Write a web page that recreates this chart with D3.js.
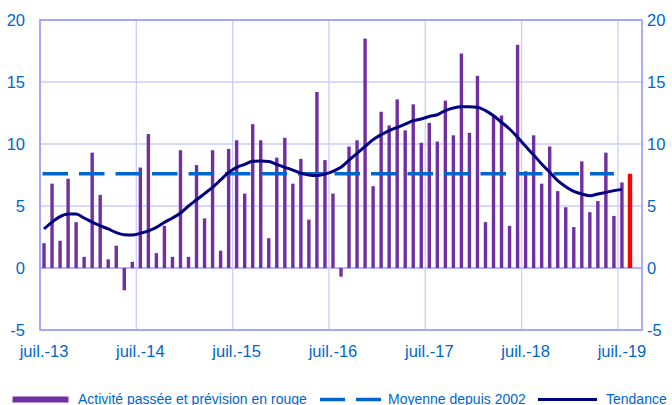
<!DOCTYPE html>
<html>
<head>
<meta charset="utf-8">
<script src="https://cdn.jsdelivr.net/npm/d3@7"></script>
<style>
	body { margin: 0; background: #fff; }
	text { font-family: "Liberation Sans", Arial, sans-serif; }
</style>
</head>
<body>
<div></div>
<script>
var width = 672;
var height = 405;

// months juil.-13 .. sept.-19 (last slot empty)
var monthNames = ["janv.", "févr.", "mars", "avr.", "mai", "juin", "juil.", "août", "sept.", "oct.", "nov.", "déc."];
var categories = [];
for (var k = 0; k < 75; k++) {
	var m = (6 + k) % 12;
	var yr = 13 + Math.floor((6 + k) / 12);
	categories.push(monthNames[m] + "-" + yr);
}

var tickLabels = ["juil.-13", "juil.-14", "juil.-15", "juil.-16", "juil.-17", "juil.-18", "juil.-19"];

// activity, juil.-13 .. juil.-19
var activity = [
	2.0, 6.8, 2.2, 7.2, 3.7, 0.9, 9.3, 5.9, 0.7, 1.8, -1.8, 0.5,
	8.1, 10.8, 1.2, 3.4, 0.9, 9.5, 0.9, 8.3, 4.0, 9.5, 1.4, 9.6,
	10.3, 6.0, 11.6, 10.3, 2.4, 8.9, 10.5, 6.8, 8.8, 3.9, 14.2, 8.7,
	6.0, -0.7, 9.8, 10.3, 18.5, 6.6, 12.6, 11.5, 13.6, 11.1, 13.2, 10.1,
	11.7, 10.2, 13.5, 10.7, 17.3, 10.9, 15.5, 3.7, 12.2, 12.3, 3.4, 18.0,
	7.8, 10.7, 6.8, 9.8, 6.2, 4.9, 3.3, 8.6, 4.5, 5.4, 9.3, 4.2,
	6.9
];
// forecast (red), août-19
var forecast = [{ idx: 73, value: 7.6 }];

var trend = [
	3.15, 3.7, 4.14, 4.35, 4.35, 4.03, 3.7, 3.41, 3.15, 2.85, 2.68, 2.66,
	2.8, 3.0, 3.28, 3.68, 4.03, 4.43, 5.0, 5.5, 6.0, 6.5, 7.1, 7.7,
	8.12, 8.35, 8.6, 8.62, 8.58, 8.35, 8.12, 7.9, 7.65, 7.5, 7.45, 7.58,
	7.8, 8.12, 8.7, 9.25, 9.8, 10.35, 10.75, 11.08, 11.34, 11.6, 11.88, 12.02,
	12.22, 12.36, 12.69, 12.9, 13.0, 13.0, 12.96, 12.69, 12.28, 11.75, 11.21, 10.54,
	9.81, 9.11, 8.39, 7.72, 7.04, 6.56, 6.18, 5.97, 5.83, 5.97, 6.1, 6.24,
	6.34
];

var meanValue = 7.6;
var meanRange = [0, 71];

var yTicks = [-5, 0, 5, 10, 15, 20];

var margin = { left: 40, right: 30, top: 20, bottom: 75 };
var plotW = width - margin.left - margin.right;
var plotH = height - margin.top - margin.bottom;

var svg = d3.select("div")
	.append("svg")
	.attr("width", width)
	.attr("height", height);

var x = d3.scaleBand()
	.domain(categories)
	.range([margin.left, margin.left + plotW]);

var y = d3.scaleLinear()
	.domain([-5, 20])
	.range([margin.top + plotH, margin.top]);

var cx = i => x(categories[i]) + x.bandwidth() / 2;

var grid = svg.append("g");

grid.selectAll("line.h")
	.data(yTicks)
	.enter()
	.append("line")
	.attr("x1", margin.left)
	.attr("x2", margin.left + plotW)
	.attr("y1", d => y(d))
	.attr("y2", d => y(d))
	.attr("stroke", d => d === 0 ? "#9999ff" : "#ccccff")
	.attr("stroke-width", d => d === 0 ? 1.5 : 1.3);

grid.selectAll("line.v")
	.data(tickLabels)
	.enter()
	.append("line")
	.attr("x1", d => x(d))
	.attr("x2", d => x(d))
	.attr("y1", margin.top)
	.attr("y2", margin.top + plotH)
	.attr("stroke", "#ccccff")
	.attr("stroke-width", 1.3);

svg.append("rect")
	.attr("x", margin.left)
	.attr("y", margin.top)
	.attr("width", plotW)
	.attr("height", plotH)
	.attr("fill", "none")
	.attr("stroke", "#9999ff")
	.attr("stroke-width", 1.6);

// bars
svg.append("g")
	.selectAll("rect")
	.data(activity)
	.enter()
	.append("rect")
	.attr("x", (d, i) => cx(i) - 1.7)
	.attr("width", 3.4)
	.attr("y", d => y(Math.max(0, d)))
	.attr("height", d => Math.abs(y(d) - y(0)))
	.attr("fill", "#7030a0");

svg.append("g")
	.selectAll("rect")
	.data(forecast)
	.enter()
	.append("rect")
	.attr("x", d => cx(d.idx) - 2.2)
	.attr("width", 4.4)
	.attr("y", d => y(d.value))
	.attr("height", d => y(0) - y(d.value))
	.attr("fill", "#ff0000");

// mean line
svg.append("line")
	.attr("x1", cx(meanRange[0]) - 1.5)
	.attr("x2", cx(meanRange[1]))
	.attr("y1", y(meanValue))
	.attr("y2", y(meanValue))
	.attr("stroke", "#0066cc")
	.attr("stroke-width", 3.3)
	.attr("stroke-dasharray", "25.5,11");

// trend
var line = d3.line()
	.x((d, i) => cx(i))
	.y(d => y(d))
	.curve(d3.curveMonotoneX);

svg.append("path")
	.datum(trend)
	.attr("d", line)
	.attr("fill", "none")
	.attr("stroke", "#000080")
	.attr("stroke-width", 3);

// axes labels
var labelColor = "#0066cc";

svg.append("g")
	.selectAll("text")
	.data(yTicks)
	.enter()
	.append("text")
	.attr("x", 25)
	.attr("y", d => y(d))
	.attr("dy", "0.36em")
	.attr("text-anchor", "end")
	.attr("font-size", 16.5)
	.attr("fill", labelColor)
	.text(d => d);

svg.append("g")
	.selectAll("text")
	.data(yTicks)
	.enter()
	.append("text")
	.attr("x", 647)
	.attr("y", d => y(d))
	.attr("dy", "0.36em")
	.attr("font-size", 16.5)
	.attr("fill", labelColor)
	.text(d => d);

svg.append("g")
	.selectAll("text")
	.data(tickLabels)
	.enter()
	.append("text")
	.attr("x", d => x(d) + x.bandwidth() / 2)
	.attr("y", 357)
	.attr("text-anchor", "middle")
	.attr("font-size", 16.5)
	.attr("fill", labelColor)
	.text(d => d);

// legend
var legend = svg.append("g").attr("font-size", 14).attr("fill", labelColor);

legend.append("rect")
	.attr("x", 12.5).attr("y", 396.5)
	.attr("width", 56).attr("height", 6)
	.attr("fill", "#7030a0");
legend.append("text").attr("x", 78).attr("y", 403.5).text("Activité passée et prévision en rouge");

legend.append("line")
	.attr("x1", 320).attr("x2", 381)
	.attr("y1", 399.5).attr("y2", 399.5)
	.attr("stroke", "#0066cc").attr("stroke-width", 3.3)
	.attr("stroke-dasharray", "25,11");
legend.append("text").attr("x", 388).attr("y", 403.5).text("Moyenne depuis 2002");

legend.append("line")
	.attr("x1", 538).attr("x2", 597)
	.attr("y1", 399.5).attr("y2", 399.5)
	.attr("stroke", "#000080").attr("stroke-width", 3);
legend.append("text").attr("x", 606).attr("y", 403.5).text("Tendance");
</script>
</body>
</html>
